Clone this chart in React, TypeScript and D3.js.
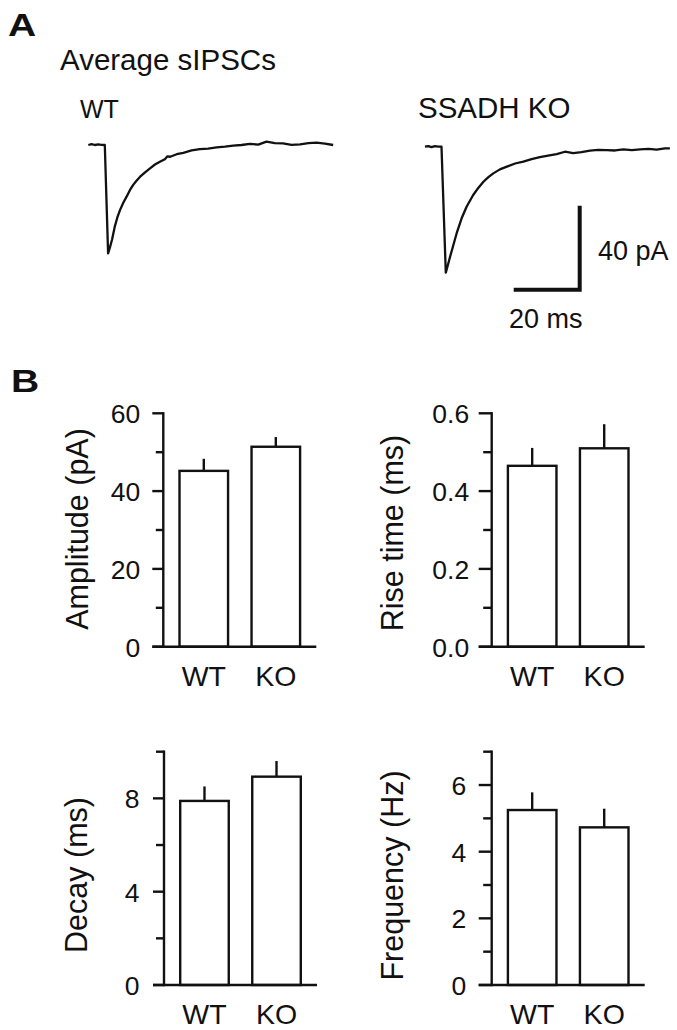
import React from "react";
import * as d3 from "d3";

// ---------- data ----------
const groups = ["WT", "KO"];

const ampMean = [45.2, 51.4];
const ampErr = [3.1, 2.5];
const riseMean = [0.465, 0.51];
const riseErr = [0.046, 0.062];
const decayMean = [7.89, 8.93];
const decayErr = [0.62, 0.67];
const freqMean = [5.25, 4.73];
const freqErr = [0.53, 0.56];

// average sIPSC traces (time in ms, current in pA)
const wtTime = [0, 1, 2, 3, 4, 5.0, 6.0, 6.6, 7.2, 8.0, 8.8, 9.6, 10.6, 11.6, 12.6, 13.6, 14.6, 15.7, 17.2, 18.7, 20.2, 21.7, 23.2, 24.0, 24.8, 26.8, 28.8, 31.3, 33.8, 36.3, 38.9, 41.4, 43.9, 46.4, 49.0, 51.5, 54.0, 56.5, 59.0, 61.6, 64.2, 66.7, 69.2, 71.7, 74.2];
const wtCurrent = [0, 0.4, 0, 0.3, 0.1, 0, -51.6, -48.5, -45, -39, -34.5, -31, -27.5, -24.6, -21.5, -19, -17, -15.1, -13, -11.1, -9.3, -8.0, -6.8, -5.4, -5.6, -4.4, -3.7, -2.6, -2.0, -1.7, -1.1, -0.8, -0.3, 0.0, 0.5, 0.2, 1.6, 0.9, 0.8, 0.1, 0.3, 0.9, 1.1, 0.7, 0];

const koTime = [0, 1, 2, 3, 4, 5.0, 6.3, 7.0, 7.6, 8.6, 9.6, 11.1, 12.6, 14.6, 16.2, 17.7, 19.2, 20.7, 22.7, 24.8, 27.3, 29.8, 32.3, 34.8, 37.3, 39.9, 42.4, 44.9, 47.4, 50.0, 52.5, 55.1, 57.6, 60.1, 62.7, 65.2, 67.7, 70.2, 72.7, 74.2];
const koCurrent = [0, 0.3, -0.2, 0.3, 0, 0, -60, -56, -52.4, -46.8, -41.2, -34.1, -28.6, -23, -19.5, -16.7, -14.5, -12.7, -10.8, -9.5, -8.0, -7.1, -5.9, -5.0, -4.3, -3.5, -2.4, -3.1, -2.6, -1.9, -1.5, -1.6, -1.8, -1.3, -1.6, -1.3, -1.0, -1.4, -0.8, -0.8];

const scaleBarMs = 20;
const scaleBarPa = 40;

// ---------- layout ----------
const W = 677;
const H = 1030;
const FONT = "'Liberation Sans', Arial, Helvetica, sans-serif";
const PX_PER_MS = 3.3;
const PX_PER_PA = 2.1;

function Txt({ x, y, size, children, anchor = "start", rotate = false, weight = "normal", sx = 1 }: any) {
  return (
    <text
      transform={`translate(${x},${y})${rotate ? " rotate(-90)" : ""} scale(${sx},1)`}
      fontSize={size}
      textAnchor={anchor}
      fontWeight={weight}
      fontFamily={FONT}
      fill="#111"
    >
      {children}
    </text>
  );
}

function Trace({ x0, y0, time, current }: any) {
  const x = d3.scaleLinear().domain([0, 75]).range([x0, x0 + 75 * PX_PER_MS]);
  const y = d3.scaleLinear().domain([-60, 0]).range([y0 + 60 * PX_PER_PA, y0]);
  const pts: [number, number][] = time.map((t: number, i: number) => [t, current[i]]);
  const line = d3.line<[number, number]>().x((d) => x(d[0])).y((d) => y(d[1]));
  return <path d={line(pts) || ""} fill="none" stroke="#111" strokeWidth={2.3} strokeLinejoin="round" />;
}

function BarPanel({ axisX, yTop, yBottom, max, majors, minors, fmt, means, errs, label, labelX, labelY, tickLen, minorLen, labelGap }: any) {
  const y = d3.scaleLinear().domain([0, max]).range([yBottom, yTop]);
  const x = d3.scaleBand().domain(groups).range([axisX, axisX + 153]).paddingInner(0.326).paddingOuter(0.225);
  const sw = 2.4;
  return (
    <g>
      {groups.map((g, i) => (
        <g key={g}>
          <line x1={x(g)! + x.bandwidth() / 2} x2={x(g)! + x.bandwidth() / 2} y1={y(means[i])} y2={y(means[i] + errs[i])} stroke="#111" strokeWidth={sw} />
          <rect x={x(g)} y={y(means[i])} width={x.bandwidth()} height={yBottom - y(means[i])} fill="#fff" stroke="#111" strokeWidth={sw} />
        </g>
      ))}
      <line x1={axisX} x2={axisX} y1={y(max)} y2={yBottom} stroke="#111" strokeWidth={sw} strokeLinecap="square" />
      {majors.map((v: number) => (
        <g key={"M" + v}>
          <line x1={axisX - tickLen} x2={axisX} y1={y(v)} y2={y(v)} stroke="#111" strokeWidth={sw} />
          <Txt x={axisX - labelGap} y={y(v) + 10} size={26.5} anchor="end">{fmt(v)}</Txt>
        </g>
      ))}
      {minors.map((v: number) => (
        <line key={"m" + v} x1={axisX - minorLen} x2={axisX} y1={y(v)} y2={y(v)} stroke="#111" strokeWidth={sw} />
      ))}
      <line x1={axisX - tickLen} x2={axisX + 153} y1={yBottom} y2={yBottom} stroke="#111" strokeWidth={sw} />
      {groups.map((g) => (
        <Txt key={"l" + g} x={x(g)! + x.bandwidth() / 2} y={yBottom + 39} size={28.5} anchor="middle">{g}</Txt>
      ))}
      <Txt x={labelX} y={labelY} size={30.5} anchor="middle" rotate>{label}</Txt>
    </g>
  );
}

export default function App() {
  const koX0 = 425;
  const koY0 = 146.7;
  const barX = d3.scaleLinear().domain([0, scaleBarMs]).range([0, scaleBarMs * PX_PER_MS]);
  const barY = d3.scaleLinear().domain([0, scaleBarPa]).range([0, scaleBarPa * PX_PER_PA]);
  const cornerX = 579.7;
  const cornerY = 289.7;
  return (
    <svg width={W} height={H} style={{ position: "absolute", left: 0, top: 0, background: "#fff" }}>
      <rect width={W} height={H} fill="#fff" />
      {/* Panel A */}
      <Txt x={8} y={36} size={31} weight="bold" sx={1.26}>A</Txt>
      <Txt x={60} y={69.5} size={29.5}>Average sIPSCs</Txt>
      <Txt x={80} y={118} size={25}>WT</Txt>
      <Txt x={418} y={118} size={29.5}>SSADH KO</Txt>
      <Trace x0={88.3} y0={145} time={wtTime} current={wtCurrent} />
      <Trace x0={koX0} y0={koY0} time={koTime} current={koCurrent} />
      <path
        d={`M${cornerX - barX(scaleBarMs)},${cornerY} H${cornerX} V${cornerY - barY(scaleBarPa)}`}
        fill="none"
        stroke="#111"
        strokeWidth={4}
        strokeLinejoin="miter"
      />
      <Txt x={598} y={259.5} size={27}>40 pA</Txt>
      <Txt x={509} y={328} size={27}>20 ms</Txt>

      {/* Panel B */}
      <Txt x={11} y={391.5} size={31} weight="bold" sx={1.26}>B</Txt>
      <BarPanel axisX={163.3} yTop={413.3} yBottom={646.7} max={60} majors={[0, 20, 40, 60]} minors={[10, 30, 50]} fmt={(v: number) => String(v)}
        means={ampMean} errs={ampErr} label="Amplitude (pA)" labelX={88} labelY={529} tickLen={11} minorLen={7.5} labelGap={23} />
      <BarPanel axisX={491.7} yTop={413.3} yBottom={646.7} max={0.6} majors={[0, 0.2, 0.4, 0.6]} minors={[0.1, 0.3, 0.5]} fmt={d3.format(".1f")}
        means={riseMean} errs={riseErr} label="Rise time (ms)" labelX={403} labelY={533} tickLen={13} minorLen={8.5} labelGap={22.5} />
      <BarPanel axisX={164} yTop={751.7} yBottom={985} max={10} majors={[0, 4, 8]} minors={[2, 6, 10]} fmt={(v: number) => String(v)}
        means={decayMean} errs={decayErr} label="Decay (ms)" labelX={87} labelY={875} tickLen={11} minorLen={8} labelGap={24.5} />
      <BarPanel axisX={491.7} yTop={751.7} yBottom={985} max={7} majors={[0, 2, 4, 6]} minors={[1, 3, 5, 7]} fmt={(v: number) => String(v)}
        means={freqMean} errs={freqErr} label="Frequency (Hz)" labelX={403} labelY={875.5} tickLen={13} minorLen={8.5} labelGap={25.5} />
    </svg>
  );
}
